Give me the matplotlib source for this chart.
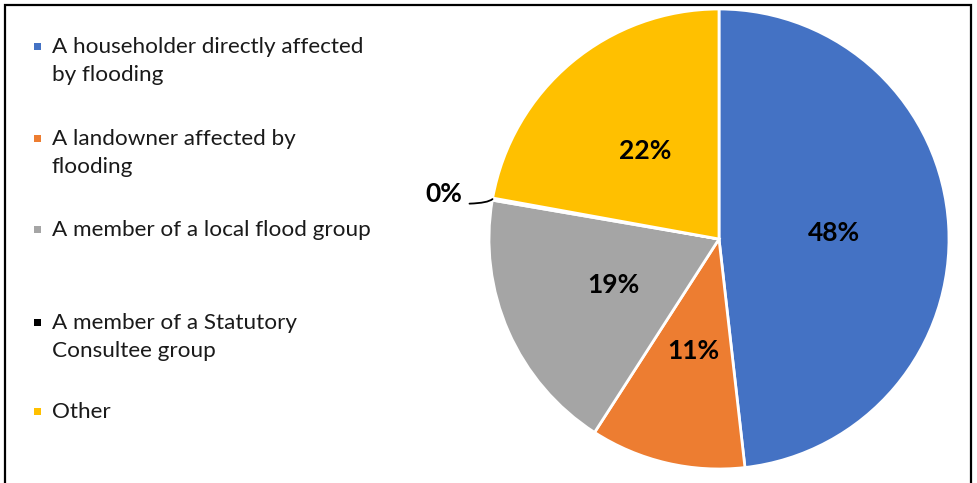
import numpy as np
import matplotlib.pyplot as plt
from matplotlib.patches import Rectangle

plt.rcParams['font.family'] = ['Lato', 'DejaVu Sans']

# data
LABELS = ['A householder directly affected\nby flooding',
          'A landowner affected by\nflooding',
          'A member of a local flood group',
          'A member of a Statutory\nConsultee group',
          'Other']
SHARES = [48.2, 10.9, 18.6, 0.15, 22.15]
COLORS = ['#4472C4', '#ED7D31', '#A5A5A5', '#000000', '#FFC000']

W, H = 977, 483
fig = plt.figure(figsize=(W / 100, H / 100), dpi=100)

# outer frame (bottom edge falls outside the picture)
fig.patches.append(Rectangle((5 / W, -0.05), 966 / W, 1.05 - 5 / H,
                             transform=fig.transFigure, fill=False,
                             edgecolor='black', linewidth=1.6))

# pie: centre (719, 239) px, radius 230 px
cx, cy, r = 719, 239, 230
ax = fig.add_axes([(cx - r) / W, (H - cy - r) / H, 2 * r / W, 2 * r / H])
wedges, _ = ax.pie(SHARES, colors=COLORS, startangle=90, counterclock=False,
                   wedgeprops=dict(edgecolor='white', linewidth=2))
ax.set_xlim(-1, 1)
ax.set_ylim(-1, 1)
ax.set_aspect('auto')
ax.axis('off')

for w, s in zip(wedges, SHARES):
    mid = np.deg2rad((w.theta1 + w.theta2) / 2)
    txt = f'{s:.0f}%'
    if s < 1:
        # small slice: label outside with leader line
        ax.annotate(txt, xy=(np.cos(mid), np.sin(mid)), xytext=(-1.115, 0.195),
                    ha='right', va='center', fontsize=19, fontweight='bold',
                    arrowprops=dict(arrowstyle='-', color='black', lw=1.3,
                                    relpos=(1.0, 0.1),
                                    connectionstyle='angle3,angleA=0,angleB=40',
                                    shrinkA=3, shrinkB=0))
    else:
        ax.text(0.5 * np.cos(mid), 0.5 * np.sin(mid), txt, ha='center',
                va='center', fontsize=19, fontweight='bold', color='black')

# legend drawn by hand to keep Excel's uneven spacing
ys = [46, 138, 229, 322, 411]
for lab, col, y in zip(LABELS, COLORS, ys):
    fig.patches.append(Rectangle((34 / W, 1 - (y + 4) / H), 7 / W, 7 / H,
                                 transform=fig.transFigure, facecolor=col,
                                 edgecolor='none'))
    fig.text(52 / W, 1 - (y - 9) / H, lab, ha='left', va='top',
             fontsize=16.2, color='#1a1a1a', linespacing=1.53)

fig.savefig('out.png', dpi=100)
